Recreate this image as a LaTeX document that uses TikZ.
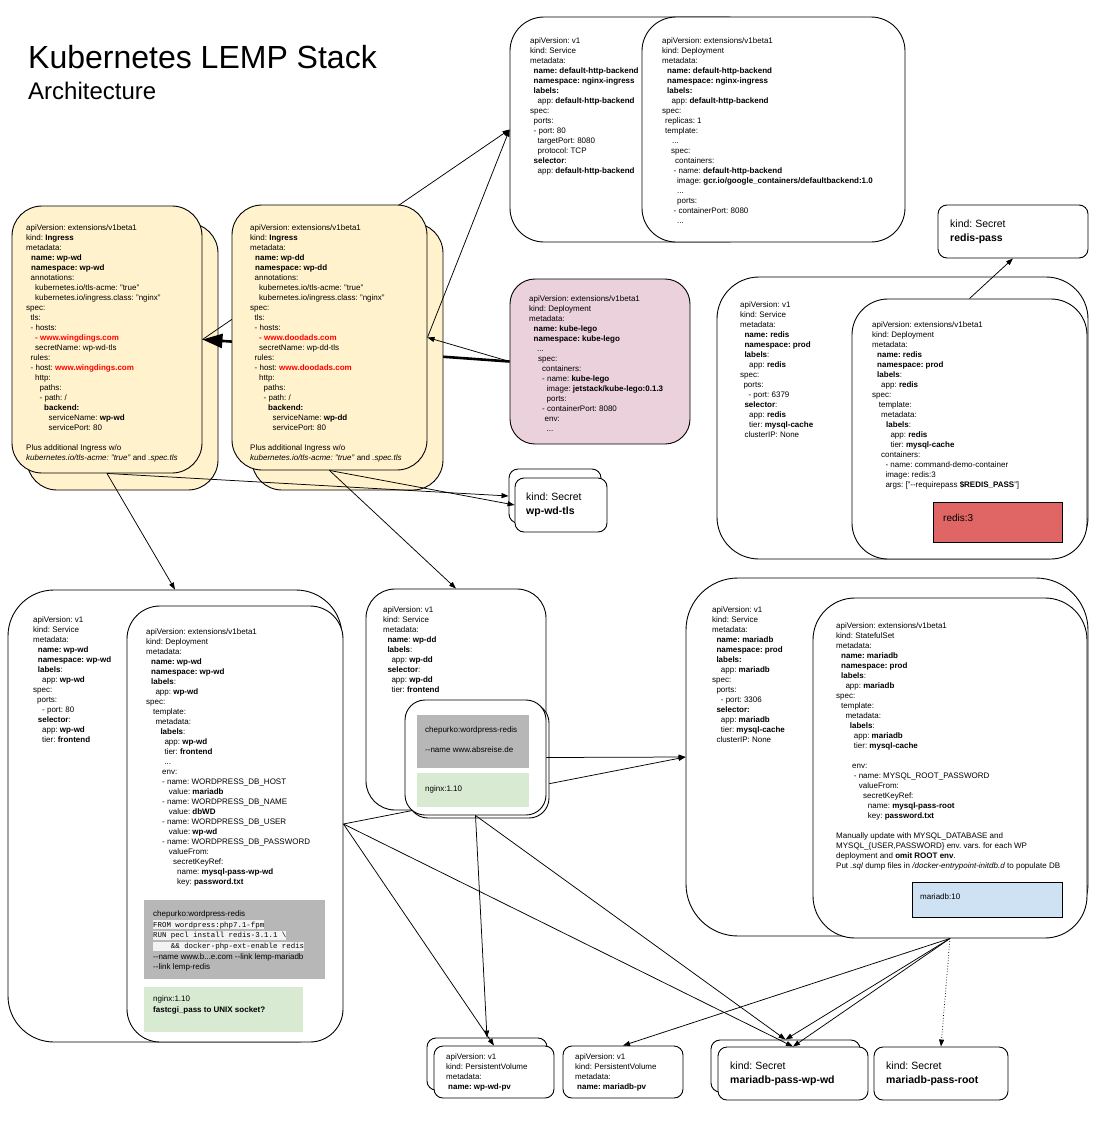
\documentclass[tikz,border=0pt]{standalone}
\usepackage{fontspec}
\setmainfont{Liberation Sans}
\setmonofont{Liberation Mono}
\frenchspacing
\usetikzlibrary{arrows.meta,fit}
\definecolor{ingfill}{HTML}{FFF2CC}
\definecolor{legofill}{HTML}{EAD1DC}
\definecolor{redisfill}{HTML}{E06666}
\definecolor{grayfill}{HTML}{B7B7B7}
\definecolor{greenfill}{HTML}{D9EAD3}
\definecolor{bluefill}{HTML}{CFE2F3}
\definecolor{codebg}{HTML}{F3F3F3}
\definecolor{hostred}{HTML}{FF0000}
\newcommand{\yi}[1]{\hspace*{#1pt}}
\newcommand{\codehl}[1]{{\setlength{\fboxsep}{0pt}\colorbox{codebg}{\rule[-2.3pt]{0pt}{9pt}\fontsize{7.4}{10.7}\ttfamily #1}}}
\newcommand{\rd}[1]{\textcolor{hostred}{\textbf{#1}}}
\tikzset{
  kbox/.style={draw=black, line width=0.9pt, fill=white, rounded corners=#1, inner sep=0pt},
  kbox/.default=28pt,
  plainbox/.style={draw=none, inner sep=0pt},
  yaml/.style={anchor=north west, align=left, inner sep=0pt, font=\fontsize{8}{10}\selectfont},
  sectext/.style={anchor=north west, align=left, inner sep=0pt, font=\fontsize{10.5}{14}\selectfont},
  conn/.style={line width=0.75pt, -{Triangle[length=7pt,width=5pt]}},
  thickconn/.style={line width=2.6pt, -{Triangle[length=20pt,width=14pt]}},
}
\begin{document}
\begin{tikzpicture}[x=1pt,y=-1pt]
\useasboundingbox (0,0) rectangle (1098,1122);
\fill[white] (0,0) rectangle (1098,1122);

% title
\node[anchor=base west, inner sep=0pt, font=\fontsize{32}{36}\selectfont] (title) at (28,68) {Kubernetes LEMP Stack};
\node[anchor=base west, inner sep=0pt, font=\fontsize{24}{28}\selectfont] (subtitle) at (28,99) {Architecture};

% default-http-backend
\node[kbox=34pt, fit={(510,17) (760,242)}] (svcHB) {};
\node[yaml] (svcHBt) at (530,37.3) {apiVersion: v1\\
kind: Service\\
metadata:\\
\yi{3.5}\textbf{name: default-http-backend}\\
\yi{3.5}\textbf{namespace: nginx-ingress}\\
\yi{3.5}\textbf{labels:}\\
\yi{7.5}app: \textbf{default-http-backend}\\
spec:\\
\yi{3.5}ports:\\
\yi{3.5}- port: 80\\
\yi{7.5}targetPort: 8080\\
\yi{7.5}protocol: TCP\\
\yi{3.5}\textbf{selector}:\\
\yi{7.5}app: \textbf{default-http-backend}};
\node[kbox=34pt, fit={(642,17) (905,242)}] (depHB) {};
\node[yaml] (depHBt) at (662,37.3) {apiVersion: extensions/v1beta1\\
kind: Deployment\\
metadata:\\
\yi{5}\textbf{name: default-http-backend}\\
\yi{5}\textbf{namespace: nginx-ingress}\\
\yi{5}\textbf{labels:}\\
\yi{9.5}app: \textbf{default-http-backend}\\
spec:\\
\yi{3}replicas: 1\\
\yi{3}template:\\
\yi{10}...\\
\yi{9}spec:\\
\yi{13}containers:\\
\yi{11.5}- name: \textbf{default-http-backend}\\
\yi{15}image: \textbf{gcr.io/google\_containers/defaultbackend:1.0}\\
\yi{15}...\\
\yi{15}ports:\\
\yi{11.5}- containerPort: 8080\\
\yi{15}...};

% kube-lego
\node[kbox=25pt, fill=legofill, fit={(510,279) (690,444)}] (lego) {};
\node[yaml] (legot) at (529,295.3) {apiVersion: extensions/v1beta1\\
kind: Deployment\\
metadata:\\
\yi{4.5}\textbf{name: kube-lego}\\
\yi{4.5}\textbf{namespace: kube-lego}\\
\yi{8}...\\
\yi{9}spec:\\
\yi{13}containers:\\
\yi{13}- name: \textbf{kube-lego}\\
\yi{17.5}image: \textbf{jetstack/kube-lego:0.1.3}\\
\yi{17.5}ports:\\
\yi{13}- containerPort: 8080\\
\yi{15.5}env:\\
\yi{17.5}...};

% Ingress wp-wd
\node[kbox=30pt, fill=ingfill, fit={(27,223) (218,490)}] (ingWDb) {};
\node[kbox=30pt, fill=ingfill, fit={(12,206) (202,473)}] (ingWD) {};
\node[yaml] (ingWDt) at (26,224.3) {apiVersion: extensions/v1beta1\\
kind: \textbf{Ingress}\\
metadata:\\
\yi{5}\textbf{name: wp-wd}\\
\yi{5}\textbf{namespace: wp-wd}\\
\yi{4.5}annotations:\\
\yi{9}kubernetes.io/tls-acme: "true"\\
\yi{9}kubernetes.io/ingress.class: "nginx"\\
spec:\\
\yi{4.5}tls:\\
\yi{4.5}- hosts:\\
\yi{9}\rd{- www.wingdings.com}\\
\yi{9}secretName: wp-wd-tls\\
\yi{4.5}rules:\\
\yi{4.5}- host: \rd{www.wingdings.com}\\
\yi{9}http:\\
\yi{13.5}paths:\\
\yi{13.5}- path: /\\
\yi{18}\textbf{backend:}\\
\yi{22.5}serviceName: \textbf{wp-wd}\\
\yi{22.5}servicePort: 80\\[10pt]
Plus additional Ingress w/o\\
\textit{kubernetes.io/tls-acme: "true"} and \textit{.spec.tls}};

\draw[thickconn] (lego.west) -- (ingWD.east);
\draw[conn] (ingWD.east) -- (svcHB.west);

% Ingress wp-dd
\node[kbox=30pt, fill=ingfill, fit={(252,223) (443,490)}] (ingDDb) {};
\node[kbox=30pt, fill=ingfill, fit={(232,205) (427,470)}] (ingDD) {};
\node[yaml] (ingDDt) at (250,224.3) {apiVersion: extensions/v1beta1\\
kind: \textbf{Ingress}\\
metadata:\\
\yi{5}\textbf{name: wp-dd}\\
\yi{5}\textbf{namespace: wp-dd}\\
\yi{4.5}annotations:\\
\yi{9}kubernetes.io/tls-acme: "true"\\
\yi{9}kubernetes.io/ingress.class: "nginx"\\
spec:\\
\yi{4.5}tls:\\
\yi{4.5}- hosts:\\
\yi{9}\rd{- www.doodads.com}\\
\yi{9}secretName: wp-dd-tls\\
\yi{4.5}rules:\\
\yi{4.5}- host: \rd{www.doodads.com}\\
\yi{9}http:\\
\yi{13.5}paths:\\
\yi{13.5}- path: /\\
\yi{18}\textbf{backend:}\\
\yi{22.5}serviceName: \textbf{wp-dd}\\
\yi{22.5}servicePort: 80\\[10pt]
Plus additional Ingress w/o\\
\textit{kubernetes.io/tls-acme: "true"} and \textit{.spec.tls}};

\draw[conn] (lego.west) -- (ingDD.east);
\draw[conn] (ingDD.east) -- (svcHB.west);

% secret wp-wd-tls
\node[kbox=9pt, fit={(509,469) (601,523)}] (tlsB) {};
\node[kbox=9pt, fit={(515,478) (607,532)}] (tls) {};
\node[sectext] (tlst) at (526,493) {kind: Secret\\ \textbf{wp-wd-tls}};
\draw[conn] (ingWD.south) -- (tlsB.west);
\draw[conn] (ingDD.south) -- (tls.west);

% redis
\node[kbox=9pt, fit={(938,205) (1088,258)}] (rpass) {};
\node[sectext] (rpasst) at (950,220) {kind: Secret\\ \textbf{redis-pass}};
\node[kbox=42pt, fit={(717,277) (1088,559)}] (rsvc) {};
\node[yaml] (rsvct) at (740,301.3) {apiVersion: v1\\
kind: Service\\
metadata:\\
\yi{4.3}\textbf{name: redis}\\
\yi{4.3}\textbf{namespace: prod}\\
\yi{4.3}\textbf{labels}:\\
\yi{9}app: \textbf{redis}\\
spec:\\
\yi{3.3}ports:\\
\yi{8.3}- port: 6379\\
\yi{4.3}\textbf{selector}:\\
\yi{9}app: \textbf{redis}\\
\yi{9}tier: \textbf{mysql-cache}\\
\yi{4.3}clusterIP: None};
\node[kbox=36pt, fit={(852,299) (1087,559)}] (rdep) {};
\node[yaml] (rdept) at (872,321.3) {apiVersion: extensions/v1beta1\\
kind: Deployment\\
metadata:\\
\yi{5}\textbf{name: redis}\\
\yi{5}\textbf{namespace: prod}\\
\yi{5}\textbf{labels}:\\
\yi{9}app: \textbf{redis}\\
spec:\\
\yi{6.7}template:\\
\yi{9}metadata:\\
\yi{14}\textbf{labels}:\\
\yi{18.3}app: \textbf{redis}\\
\yi{18.3}tier: \textbf{mysql-cache}\\
\yi{9}containers:\\
\yi{13.3}- name: command-demo-container\\
\yi{13.3}image: redis:3\\
\yi{13.3}args: ["-{}-requirepass \textbf{\$REDIS\_PASS}"]};
\node[draw=black, line width=0.8pt, fill=redisfill, inner sep=0pt, fit={(933,502) (1062,542)}] (redis3) {};
\node[anchor=west, inner sep=0pt, font=\fontsize{10}{12}\selectfont] (redis3t) at (943,518) {redis:3};
\draw[conn] (rdep.north) -- (rpass.south);

% wp-wd service + deployment
\node[kbox=46pt, fit={(8,590) (342,1042)}] (svcWD) {};
\node[yaml] (svcWDt) at (33,616.3) {apiVersion: v1\\
kind: Service\\
metadata:\\
\yi{4.7}\textbf{name: wp-wd}\\
\yi{4.7}\textbf{namespace: wp-wd}\\
\yi{4.7}\textbf{labels}:\\
\yi{9}app: \textbf{wp-wd}\\
spec:\\
\yi{4}ports:\\
\yi{9}- port: 80\\
\yi{4.7}\textbf{selector}:\\
\yi{9}app: \textbf{wp-wd}\\
\yi{9}tier: \textbf{frontend}};
\node[kbox=33pt, fit={(127,606) (343,1042)}] (depWD) {};
\node[yaml] (depWDt) at (146,628.3) {apiVersion: extensions/v1beta1\\
kind: Deployment\\
metadata:\\
\yi{5}\textbf{name: wp-wd}\\
\yi{5}\textbf{namespace: wp-wd}\\
\yi{5}\textbf{labels}:\\
\yi{9.3}app: \textbf{wp-wd}\\
spec:\\
\yi{7}template:\\
\yi{9.3}metadata:\\
\yi{14.3}\textbf{labels}:\\
\yi{18.3}app: \textbf{wp-wd}\\
\yi{18.3}tier: \textbf{frontend}\\
\yi{18.3}...\\
\yi{16}env:\\
\yi{16}- name: WORDPRESS\_DB\_HOST\\
\yi{22.7}value: \textbf{mariadb}\\
\yi{16}- name: WORDPRESS\_DB\_NAME\\
\yi{22.7}value: \textbf{dbWD}\\
\yi{16}- name: WORDPRESS\_DB\_USER\\
\yi{22.7}value: \textbf{wp-wd}\\
\yi{16}- name: WORDPRESS\_DB\_PASSWORD\\
\yi{22.7}valueFrom:\\
\yi{27}secretKeyRef:\\
\yi{31}name: \textbf{mysql-pass-wp-wd}\\
\yi{31}key: \textbf{password.txt}};
\node[plainbox, fill=grayfill, fit={(144,900) (325,979)}] (grayWD) {};
\node[anchor=north west, align=left, inner sep=0pt, font=\fontsize{8}{10.7}\selectfont] (grayWDt) at (153,910.3) {chepurko:wordpress-redis\\
\codehl{FROM wordpress:php7.1-fpm}\\
\codehl{RUN pecl install redis-3.1.1 \textbackslash}\\
\codehl{\ \ \ \ \&\& docker-php-ext-enable redis}\\
-{}-name www.b...e.com -{}-link lemp-mariadb\\
-{}-link lemp-redis};
\node[plainbox, fill=greenfill, fit={(144,987) (303,1032)}] (greenWD) {};
\node[anchor=north west, align=left, inner sep=0pt, font=\fontsize{8}{11}\selectfont] (greenWDt) at (153,995.3) {nginx:1.10\\ \textbf{fastcgi\_pass to UNIX socket?}};

% mariadb
\node[kbox=52pt, fit={(686,578) (1088,936)}] (msvc) {};
\node[yaml] (msvct) at (712,606.3) {apiVersion: v1\\
kind: Service\\
metadata:\\
\yi{4.3}\textbf{name: mariadb}\\
\yi{4.3}\textbf{namespace: prod}\\
\yi{4.3}\textbf{labels:}\\
\yi{8.7}app: \textbf{mariadb}\\
spec:\\
\yi{4.3}ports:\\
\yi{8.7}- port: 3306\\
\yi{4.3}\textbf{selector:}\\
\yi{8.7}app: \textbf{mariadb}\\
\yi{8.7}tier: \textbf{mysql-cache}\\
\yi{4.3}clusterIP: None};
\node[kbox=42pt, fit={(813,598) (1087,938)}] (sts) {};
\node[yaml] (stst) at (836,622.3) {apiVersion: extensions/v1beta1\\
kind: StatefulSet\\
metadata:\\
\yi{5}\textbf{name: mariadb}\\
\yi{5}\textbf{namespace: prod}\\
\yi{5}\textbf{labels}:\\
\yi{9.3}app: \textbf{mariadb}\\
spec:\\
\yi{5}template:\\
\yi{9.3}metadata:\\
\yi{13.7}\textbf{labels}:\\
\yi{17.7}app: \textbf{mariadb}\\
\yi{17.7}tier: \textbf{mysql-cache}\\[10pt]
\yi{16}env:\\
\yi{17.7}- name: MYSQL\_ROOT\_PASSWORD\\
\yi{22.7}valueFrom:\\
\yi{27}secretKeyRef:\\
\yi{31.7}name: \textbf{mysql-pass-root}\\
\yi{31.7}key: \textbf{password.txt}\\[10pt]
Manually update with MYSQL\_DATABASE and\\
MYSQL\_\{USER,PASSWORD\} env. vars. for each WP\\
deployment and \textbf{omit ROOT env}.\\
Put \textit{.sql} dump files in \textit{/docker-entrypoint-initdb.d} to populate DB};
\node[draw=black, line width=0.8pt, fill=bluefill, inner sep=0pt, fit={(912,882) (1062,917)}] (mdb10) {};
\node[anchor=west, inner sep=0pt, font=\fontsize{8}{10}\selectfont] (mdb10t) at (920,897) {mariadb:10};

% connector hidden behind the wp-dd boxes
\draw[conn] (depWD.east) -- (msvc.west);

% wp-dd service + pod
\node[kbox=29pt, fit={(366,589) (546,810)}] (svcDD) {};
\node[yaml] (svcDDt) at (383,606.3) {apiVersion: v1\\
kind: Service\\
metadata:\\
\yi{4.3}\textbf{name}: \textbf{wp-dd}\\
\yi{4.3}\textbf{labels}:\\
\yi{8.3}app: \textbf{wp-dd}\\
\yi{4.3}\textbf{selector}:\\
\yi{8.3}app: \textbf{wp-dd}\\
\yi{8.3}tier: \textbf{frontend}};
\node[kbox=20pt, fit={(408,703) (549,818)}] (podB) {};
\node[kbox=20pt, fit={(405,700) (546,815)}] (pod) {};
\node[plainbox, fill=grayfill, fit={(417,715) (529,768)}] (grayDD) {};
\node[yaml] (grayDDt) at (425,726.3) {chepurko:wordpress-redis\\[10pt] -{}-name www.absreise.de};
\node[plainbox, fill=greenfill, fit={(417,773) (529,807)}] (greenDD) {};
\node[yaml] (greenDDt) at (425,785.3) {nginx:1.10};
\draw[conn] (pod.east) -- (msvc.west);

% ingress -> services
\draw[conn] (ingWD.south) -- (svcWD.north);
\draw[conn] (ingDD.south) -- (svcDD.north);

% persistent volumes and secrets
\node[kbox=9pt, fit={(427,1038) (547,1090)}] (wppvB) {};
\node[kbox=9pt, fit={(434,1046) (554,1098)}] (wppv) {};
\node[yaml] (wppvt) at (446,1053.3) {apiVersion: v1\\ kind: PersistentVolume\\ metadata:\\ \yi{2}\textbf{name: wp-wd-pv}};
\node[kbox=9pt, fit={(563,1046) (683,1098)}] (mpv) {};
\node[yaml] (mpvt) at (575,1053.3) {apiVersion: v1\\ kind: PersistentVolume\\ metadata:\\ \yi{2}\textbf{name: mariadb-pv}};
\node[kbox=9pt, fit={(711,1040) (860,1092)}] (mpwdB) {};
\node[kbox=9pt, fit={(718,1047) (868,1100)}] (mpwd) {};
\node[sectext] (mpwdt) at (730,1062) {kind: Secret\\ \textbf{mariadb-pass-wp-wd}};
\node[kbox=9pt, fit={(874,1047) (1008,1100)}] (mroot) {};
\node[sectext] (mroott) at (886,1062) {kind: Secret\\ \textbf{mariadb-pass-root}};

\draw[conn] (depWD.east) -- (wppv.north);
\draw[conn] (depWD.east) -- (mpwd.north);
\draw[conn] (pod.south) -- (wppvB.north);
\draw[conn] (pod.south) -- (mpwdB.north);
\draw[conn] (sts.south) -- (mpv.north);
\draw[conn] (sts.south) -- (mpwdB.north);
\draw[conn] (sts.south) -- (mpwd.north);
\draw[conn, dotted] (sts.south) -- (mroot.north);
\end{tikzpicture}
\end{document}
